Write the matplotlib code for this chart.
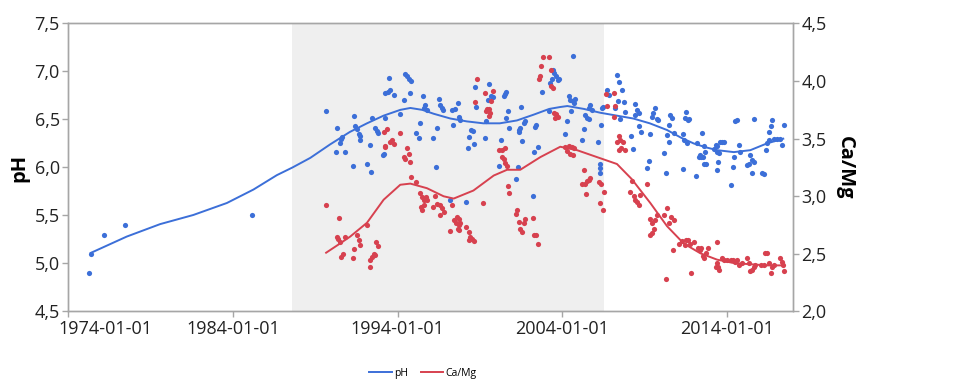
import numpy as np
import matplotlib
matplotlib.use("Agg")
import matplotlib.pyplot as plt
import matplotlib.transforms as mtransforms
from matplotlib.ticker import FuncFormatter
from matplotlib.lines import Line2D

plt.rcParams['font.family'] = ['Open Sans', 'DejaVu Sans']

# --- data (decimal years) ---
ph_years = [1975.29, 1975.38, 1976.19, 1977.44, 1985.17,
            1989.65, 1991.38, 1990.35, 1990.64, 1990.58, 1990.52, 1990.27, 1990.78, 1991.29, 1991.43,
            1991.53, 1991.63, 1991.73, 1991.69, 1992.30, 1992.14, 1992.36, 1992.44, 1992.60, 1992.74,
            1992.81, 1993.13, 1993.25,
            1993.45, 1994.46, 1994.57, 1994.66, 1994.81, 1993.39, 1993.55, 1993.75, 1994.36, 1994.72,
            1993.25, 1994.16, 1995.54, 1995.68, 1995.57, 1995.78, 1996.48, 1996.59, 1996.69, 1996.75,
            1995.37, 1995.13, 1995.27, 1996.14, 1996.39, 1997.30, 1997.50, 1997.64, 1997.36, 1993.15,
            1996.33, 1997.19,
            1998.71, 1999.52, 1997.74, 1997.80, 1998.76, 1999.46, 1999.68, 1999.76, 2000.43, 2000.49,
            2000.58, 2000.70, 2000.59, 2001.51, 1999.36, 1998.47, 1998.55, 1998.35, 1998.27, 1998.61,
            1999.28, 2000.29, 2000.78, 2001.38, 2001.45, 2001.34, 2001.65, 2001.75, 2001.55, 2000.13,
            2001.31, 2001.18, 2002.25, 2002.19, 1998.15,
            2004.62, 2003.43, 2003.51, 2003.63, 2003.71, 2003.77, 2003.37, 2003.27, 2002.78, 2004.38,
            2004.48, 2004.65, 2004.79, 2004.72, 2004.52, 2003.16, 2002.42, 2002.36, 2004.28, 2005.39,
            2005.49, 2005.59, 2005.70, 2005.80, 2005.59, 2005.29, 2006.47, 2006.41, 2006.71, 2006.36,
            2004.18, 2005.19, 2006.16, 2002.50, 2006.30, 2006.26, 2006.26,
            2007.32, 2007.46, 2007.62, 2006.81, 2007.38, 2007.72, 2007.17, 2007.52, 2007.78, 2008.43,
            2008.53, 2008.63, 2008.39, 2008.67, 2008.79, 2008.19, 2008.31, 2009.60, 2009.48, 2009.44,
            2009.75, 2009.81, 2009.34, 2010.55, 2010.66, 2010.49, 2010.76, 2010.45, 2010.35, 2011.30,
            2011.42, 2009.28, 2009.14, 2010.17, 2010.31, 2011.30,
            2011.40, 2011.56, 2011.50, 2011.66, 2011.60, 2012.17, 2012.13, 2012.37, 2012.42, 2012.27,
            2012.54, 2012.48, 2012.62, 2012.68, 2012.74, 2012.62, 2013.18, 2013.29, 2013.39, 2013.35,
            2013.35, 2013.43, 2013.49, 2013.59, 2013.69, 2013.79, 2014.20, 2014.36, 2014.40, 2014.50,
            2014.60, 2014.70, 2014.76, 2015.21, 2015.31, 2015.41, 2015.51, 2015.61, 2015.61, 2015.51,
            2016.12, 2016.26, 2016.38, 2016.42, 2016.52, 2016.52, 2016.63, 2016.73, 2016.83, 2017.03,
            2017.23, 2017.34, 2017.43]
ph_values = [4.90, 5.10, 5.30, 5.40, 5.50,
             6.59, 6.54, 6.41, 6.32, 6.30, 6.26, 6.16, 6.16, 6.02, 6.43,
             6.40, 6.35, 6.33, 6.29, 6.23, 6.04, 5.95, 6.52, 6.41, 6.38,
             6.36, 6.13, 6.78,
             6.93, 6.97, 6.95, 6.92, 6.90, 6.79, 6.81, 6.76, 6.70, 6.78,
             6.52, 6.56, 6.74, 6.65, 6.62, 6.60, 6.71, 6.65, 6.62, 6.60,
             6.46, 6.36, 6.31, 6.31, 6.41, 6.60, 6.61, 6.67, 6.44, 6.14,
             6.01, 5.66,
             6.84, 6.87, 6.53, 6.49, 6.63, 6.70, 6.74, 6.73, 6.74, 6.77,
             6.79, 6.59, 6.52, 6.63, 6.48, 6.39, 6.38, 6.32, 6.20, 6.24,
             6.31, 6.29, 6.41, 6.39, 6.41, 6.37, 6.46, 6.48, 6.28, 6.02,
             6.00, 5.88, 6.16, 5.70, 5.64,
             7.16, 7.02, 6.98, 6.95, 6.91, 6.92, 6.92, 6.88, 6.79, 6.74,
             6.70, 6.69, 6.71, 6.67, 6.59, 6.59, 6.44, 6.42, 6.48, 6.55,
             6.52, 6.50, 6.65, 6.60, 6.62, 6.40, 6.63, 6.62, 6.81, 6.44,
             6.35, 6.29, 6.27, 6.21, 6.04, 5.99, 5.94,
             6.96, 6.89, 6.81, 6.76, 6.69, 6.68, 6.62, 6.51, 6.58, 6.66,
             6.60, 6.57, 6.55, 6.43, 6.37, 6.33, 6.19, 6.62, 6.57, 6.53,
             6.51, 6.49, 6.35, 6.55, 6.52, 6.44, 6.36, 6.27, 6.34, 6.35,
             6.52, 6.07, 5.99, 6.15, 5.94, 5.98,
             6.29, 6.25, 6.58, 6.51, 6.49, 6.26, 5.91, 6.13, 6.11, 6.11,
             6.11, 6.36, 6.22, 6.16, 6.04, 6.04, 6.19, 6.23, 6.22, 6.16,
             5.97, 6.06, 6.15, 6.27, 6.27, 6.27, 5.82, 6.01, 6.11, 6.48,
             6.49, 6.23, 6.16, 6.03, 6.04, 6.13, 6.08, 6.06, 6.51, 5.94,
             5.94, 5.93, 6.18, 6.25, 6.29, 6.37, 6.43, 6.49, 6.30, 6.30,
             6.30, 6.23, 6.44]

camg_years = [1989.65, 1990.46, 1990.32, 1990.41, 1990.78, 1990.52, 1991.53, 1991.63, 1991.73, 1992.14,
              1990.66, 1990.58, 1991.38, 1991.29, 1992.70, 1992.81, 1992.54, 1992.64, 1992.44, 1992.34,
              1992.30, 1993.15, 1993.25,
              1993.35, 1993.66, 1993.55, 1993.75, 1993.25, 1994.16, 1994.57, 1994.66, 1994.36, 1994.46,
              1994.72, 1994.81, 1995.13, 1995.33, 1995.48, 1995.57, 1995.74, 1995.78, 1995.42, 1995.48,
              1995.57, 1996.28, 1996.14, 1996.39, 1996.55, 1996.69, 1996.55, 1996.79, 1997.30, 1997.40,
              1997.56, 1997.70, 1997.19,
              1998.82, 1999.28, 1999.76, 1999.68, 1998.71, 1999.42, 1999.52, 1999.36, 1999.62, 1999.56,
              2000.13, 2000.33, 2000.53, 2000.33, 2000.43, 2000.53, 2000.64, 2000.70, 2000.78, 1999.16,
              1997.60, 1997.70, 1997.80, 1997.66, 1997.74, 1998.15, 1998.35, 1998.41, 1998.31, 1998.51,
              1998.61, 2001.24, 2001.18, 2001.34, 2001.45, 2001.55, 2001.65, 2001.75, 2002.19, 2002.25,
              2002.82, 2003.16, 2002.70, 2002.62, 2002.56, 2003.31, 2003.31, 2003.43, 2003.47, 2003.63,
              2003.71, 2003.57, 2004.18, 2004.38, 2004.58, 2004.28, 2004.48, 2004.65, 2004.72, 2006.67,
              2006.71, 2005.33, 2005.19, 2005.39, 2005.59, 2005.70, 2005.50, 2005.45, 2006.20, 2006.35,
              2006.50, 2006.30, 2006.47, 2002.42, 2002.50,
              2007.11, 2007.21, 2007.11, 2007.41, 2007.52, 2007.32, 2007.66, 2007.58, 2007.41, 2007.78,
              2008.23, 2009.14, 2008.12, 2008.32, 2008.43, 2008.53, 2008.63, 2008.73, 2009.34, 2009.44,
              2009.64, 2009.75, 2009.54, 2009.44, 2009.34, 2010.15, 2010.35, 2010.45, 2010.61, 2010.76,
              2010.72, 2011.10, 2011.26, 2011.42, 2010.31,
              2011.50, 2011.64, 2011.77, 2011.81, 2012.01, 2012.22, 2012.32, 2012.42, 2012.52, 2012.62,
              2012.72, 2012.82, 2013.39, 2013.39, 2013.43, 2013.49, 2013.29, 2013.69, 2013.83, 2014.00,
              2014.20, 2014.36, 2014.50, 2014.60, 2014.70, 2014.91, 2015.21, 2015.31, 2015.41, 2015.51,
              2015.61, 2015.71, 2016.02, 2016.22, 2016.32, 2016.42, 2016.52, 2016.63, 2016.73, 2016.83,
              2017.23, 2017.34, 2017.40, 2017.43]
camg_values = [2.92, 2.81, 2.65, 2.63, 2.65, 2.60, 2.66, 2.62, 2.58, 2.75,
               2.50, 2.47, 2.54, 2.46, 2.60, 2.57, 2.50, 2.49, 2.47, 2.45,
               2.39, 3.56, 3.44,
               3.58, 3.49, 3.47, 3.45, 3.43, 3.55, 3.42, 3.37, 3.34, 3.32,
               3.30, 3.17, 3.12, 3.03, 2.99, 2.97, 2.99, 2.97, 2.91, 2.88,
               2.92, 3.00, 2.91, 2.93, 2.92, 2.90, 2.84, 2.86, 2.92, 2.79,
               2.77, 2.75, 2.70,
               4.02, 3.90, 3.91, 3.83, 3.82, 3.76, 3.76, 3.74, 3.72, 3.70,
               3.40, 3.40, 3.42, 3.34, 3.32, 3.29, 3.26, 3.09, 3.03, 2.94,
               2.82, 2.80, 2.77, 2.72, 2.71, 2.73, 2.69, 2.65, 2.62, 2.63,
               2.61, 2.88, 2.85, 2.78, 2.72, 2.69, 2.77, 2.80, 2.81, 2.66,
               4.21, 4.21, 4.13, 4.04, 4.02, 4.10, 3.96, 3.94, 3.72, 3.71,
               3.69, 3.68, 3.43, 3.44, 3.43, 3.39, 3.37, 3.36, 3.42, 3.89,
               3.78, 3.23, 3.11, 3.11, 3.14, 3.16, 3.13, 3.02, 3.12, 3.11,
               3.04, 2.94, 2.88, 2.66, 2.59,
               3.90, 3.78, 3.69, 3.52, 3.49, 3.47, 3.47, 3.42, 3.40, 3.40,
               3.13, 3.11, 3.04, 3.00, 2.97, 2.95, 2.92, 3.01, 2.80, 2.77,
               2.79, 2.84, 2.72, 2.68, 2.66, 2.84, 2.90, 2.77, 2.82, 2.79,
               2.53, 2.59, 2.61, 2.58, 2.28,
               2.62, 2.62, 2.59, 2.33, 2.60, 2.55, 2.53, 2.55, 2.48, 2.46,
               2.51, 2.55, 2.60, 2.42, 2.39, 2.36, 2.39, 2.46, 2.45, 2.45,
               2.45, 2.45, 2.43, 2.45, 2.40, 2.42, 2.46, 2.42, 2.35, 2.36,
               2.39, 2.40, 2.40, 2.40, 2.51, 2.51, 2.42, 2.33, 2.39, 2.40,
               2.46, 2.43, 2.40, 2.35]

# smoothed trend lines
ph_fit_years = [1975.38, 1977.56, 1979.59, 1981.6, 1983.64, 1985.25, 1986.67, 1987.62, 1988.7, 1989.9,
                1991.1, 1992.14, 1993.15, 1994.16, 1994.77, 1995.5, 1996.18, 1997.2, 1998.2, 1999.2,
                2000.2, 2001.24, 2002.25, 2003.2, 2003.87, 2004.3, 2005.3, 2006.3, 2007.3, 2008.3,
                2009.3, 2010.35, 2011.2, 2011.97, 2012.7, 2013.4, 2014.4, 2015.4, 2016.4, 2017.4]
ph_fit = [5.11, 5.28, 5.41, 5.505, 5.63, 5.77, 5.92, 6.00, 6.10, 6.24,
          6.37, 6.46, 6.54, 6.60, 6.62, 6.60, 6.56, 6.51, 6.48, 6.46,
          6.46, 6.49, 6.55, 6.61, 6.63, 6.64, 6.61, 6.57, 6.54, 6.51,
          6.46, 6.39, 6.31, 6.25, 6.21, 6.18, 6.16, 6.18, 6.25, 6.30]

camg_fit_years = [1989.66, 1990.4, 1991.12, 1992.14, 1993.15, 1994.16, 1994.77, 1995.78, 1996.79, 1997.4,
                  1998.6, 1999.83, 2000.64, 2001.44, 2002.66, 2003.87, 2004.89, 2006.3, 2007.31, 2008.2,
                  2009.34, 2010.35, 2011.36, 2012.37, 2013.38, 2014.4, 2015.4, 2016.4, 2017.4]
camg_fit = [2.51, 2.58, 2.65, 2.77, 2.97, 3.10, 3.11, 3.07, 3.00, 2.98,
            3.05, 3.18, 3.23, 3.23, 3.34, 3.43, 3.40, 3.33, 3.28, 3.15,
            2.94, 2.74, 2.59, 2.505, 2.45, 2.42, 2.41, 2.40, 2.40]

shade_start, shade_end = 1987.6, 2006.55
x_ticks = [1974, 1984, 1994, 2004, 2014]

BLUE = '#3c6fd8'
RED = '#d7414f'
GRAY = '#a6a6a6'

fig = plt.figure(figsize=(9.72, 3.85), dpi=100)
ax = fig.add_axes([0.070, 0.191, 0.746, 0.748])
ax2 = ax.twinx()

ax.axvspan(shade_start, shade_end, color='#efefef', zorder=0, lw=0)
ax.scatter(ph_years, ph_values, s=14, color=BLUE, lw=0, zorder=3)
ax.plot(ph_fit_years, ph_fit, color=BLUE, lw=1.4, zorder=4)
ax2.scatter(camg_years, camg_values, s=14, color=RED, lw=0, zorder=3)
ax2.plot(camg_fit_years, camg_fit, color=RED, lw=1.4, zorder=4)

ax.set_xlim(1974, 2018)
ax.set_ylim(4.5, 7.5)
ax2.set_ylim(2.0, 4.5)
ax.set_yticks(np.arange(4.5, 7.51, 0.5))
ax2.set_yticks(np.arange(2.0, 4.51, 0.5))
ax.set_xticks(x_ticks)
ax.set_xticklabels([f'{y}-01-01' for y in x_ticks])

comma = FuncFormatter(lambda v, p: f'{v:.1f}'.replace('.', ','))
ax.yaxis.set_major_formatter(comma)
ax2.yaxis.set_major_formatter(comma)

for a in (ax, ax2):
    for s in a.spines.values():
        s.set_color(GRAY)
        s.set_linewidth(1.0)
    a.tick_params(colors=GRAY, labelcolor='#222222', labelsize=13, length=4, width=1, pad=2)

# first date label is pushed right so it stays inside the figure
first = ax.get_xticklabels()[0]
first.set_ha('left')
first.set_transform(first.get_transform() +
                    mtransforms.ScaledTranslation(-0.10, 0, fig.dpi_scale_trans))

ax.set_ylabel('pH', fontsize=14.5, fontweight='bold', labelpad=4)
ax2.set_ylabel('Ca/Mg', fontsize=14.5, fontweight='bold', rotation=-90, labelpad=20)

handles = [Line2D([], [], color=BLUE, lw=1.4), Line2D([], [], color=RED, lw=1.4)]
fig.legend(handles, ['pH', 'Ca/Mg'], loc='center', bbox_to_anchor=(0.435, 0.03),
           ncol=2, frameon=False, fontsize=7.5, handlelength=2.2, handletextpad=0.2,
           columnspacing=1.2)

fig.savefig('out.png', dpi=100)
